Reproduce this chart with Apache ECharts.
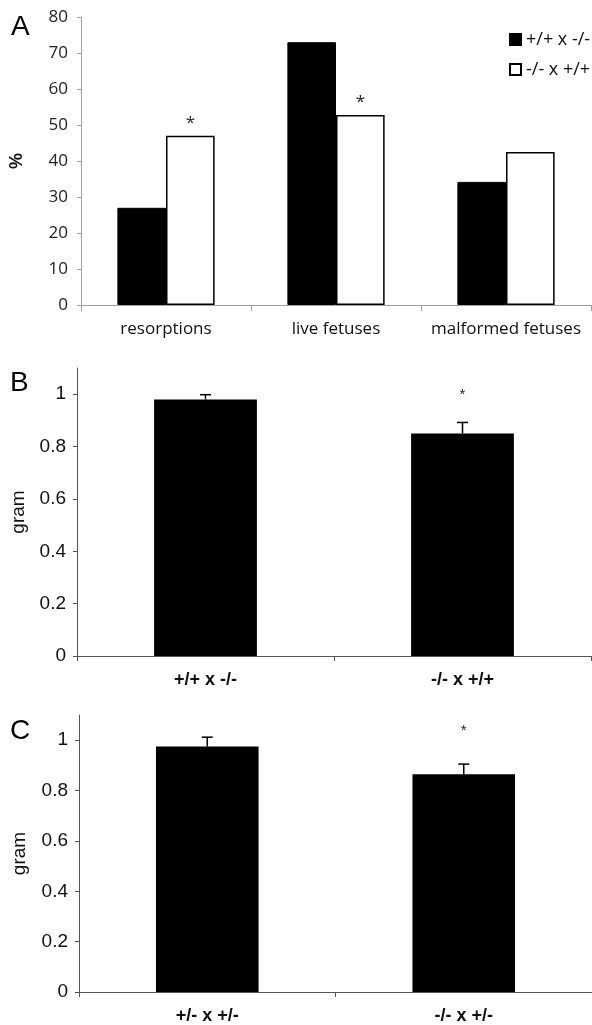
<!DOCTYPE html>
<html>
<head>
<meta charset="utf-8">
<script src="https://cdn.jsdelivr.net/npm/echarts@6/dist/echarts.min.js"></script>
<style>
html,body{margin:0;padding:0;background:#fff;}
#chart{width:592px;height:1025px;}
</style>
</head>
<body>
<div id="chart"></div>
<script>
// ---- Panel A data ----
const categoriesA = ['resorptions', 'live fetuses', 'malformed fetuses'];
const seriesNameA1 = '+/+ x -/-';
const seriesNameA2 = '-/- x +/+';
const valuesA1 = [27, 73, 34.2];
const valuesA2 = [47, 52.8, 42.5];
const sigA2 = [true, true, false];
const yTicksA = [0, 10, 20, 30, 40, 50, 60, 70, 80];

// ---- Panel B data ----
const categoriesB = ['+/+ x -/-', '-/- x +/+'];
const meanB = [0.98, 0.85];
const errB = [0.018, 0.042];
const sigB = [false, true];

// ---- Panel C data ----
const categoriesC = ['+/- x +/-', '-/- x +/-'];
const meanC = [0.975, 0.865];
const errC = [0.037, 0.04];
const sigC = [false, true];

const yTicksBC = [0, 0.2, 0.4, 0.6, 0.8, 1];

const chart = echarts.init(document.getElementById('chart'), null, {renderer: 'canvas'});

const fontA = '"Open Sans", sans-serif';
const fontB = '"Liberation Sans", Arial, sans-serif';

function errData(mean, err, sig) {
  return mean.map((m, i) => [i, m, err[i], sig[i] ? 1 : 0]);
}

function makeErrRender(starOffset) {
  return function (params, api) {
    const x = api.value(0), m = api.value(1), e = api.value(2), s = api.value(3);
    const base = api.coord([x, m]);
    const top = api.coord([x, m + e]);
    const children = [
      {type: 'line', shape: {x1: base[0], y1: base[1], x2: top[0], y2: top[1]}, style: {stroke: '#000', lineWidth: 1.5}},
      {type: 'line', shape: {x1: top[0] - 5.5, y1: top[1], x2: top[0] + 5.5, y2: top[1]}, style: {stroke: '#000', lineWidth: 1.5}}
    ];
    if (s) {
      children.push({type: 'text', x: top[0], y: top[1] - starOffset, style: {text: '*', fontSize: 15, fontFamily: fontB, fill: '#222', align: 'center', verticalAlign: 'middle'}});
    }
    return {type: 'group', children: children};
  };
}

const option = {
  backgroundColor: '#fff',
  animation: false,
  grid: [
    {left: 78, top: 17, width: 513, height: 288},
    {left: 77, top: 368, width: 514, height: 288},
    {left: 79, top: 715, width: 513, height: 278}
  ],
  legend: {
    data: [seriesNameA1, seriesNameA2],
    orient: 'vertical',
    left: 504,
    top: 25,
    icon: 'rect',
    itemWidth: 11,
    itemHeight: 11,
    itemGap: 11,
    textStyle: {fontSize: 18, fontFamily: fontA, color: '#111', lineHeight: 19}
  },
  graphic: [
    {type: 'text', x: 11, y: 27, style: {text: 'A', fontSize: 28, fontFamily: fontB, fill: '#000', verticalAlign: 'middle'}},
    {type: 'text', x: 10, y: 383, style: {text: 'B', fontSize: 28, fontFamily: fontB, fill: '#000', verticalAlign: 'middle'}},
    {type: 'text', x: 10, y: 731, style: {text: 'C', fontSize: 28, fontFamily: fontB, fill: '#000', verticalAlign: 'middle'}}
  ],
  xAxis: [
    {
      gridIndex: 0, type: 'category', data: categoriesA,
      axisLine: {show: true, lineStyle: {color: '#a0a0a0', width: 1}},
      axisTick: {show: true, length: 6, lineStyle: {color: '#a0a0a0'}},
      axisLabel: {interval: 0, fontSize: 17, fontFamily: fontA, color: '#111', margin: 16}
    },
    {
      gridIndex: 1, type: 'category', data: categoriesB,
      axisLine: {show: true, lineStyle: {color: '#555', width: 1}},
      axisTick: {show: true, length: 5, lineStyle: {color: '#555'}},
      axisLabel: {interval: 0, fontSize: 18, fontWeight: 'bold', fontFamily: fontB, color: '#111', margin: 15}
    },
    {
      gridIndex: 2, type: 'category', data: categoriesC,
      axisLine: {show: true, lineStyle: {color: '#555', width: 1}},
      axisTick: {show: true, length: 5, lineStyle: {color: '#555'}},
      axisLabel: {interval: 0, fontSize: 18, fontWeight: 'bold', fontFamily: fontB, color: '#111', margin: 15}
    }
  ],
  yAxis: [
    {
      gridIndex: 0, type: 'value', min: 0, max: 80, interval: 10,
      name: '%', nameLocation: 'middle', nameGap: 55,
      nameTextStyle: {fontSize: 18, fontWeight: 'bold', fontFamily: fontB, color: '#111'},
      axisLine: {show: true, lineStyle: {color: '#a0a0a0', width: 1}},
      axisTick: {show: true, length: 4, lineStyle: {color: '#a0a0a0'}},
      axisLabel: {fontSize: 17, fontFamily: fontA, color: '#222', margin: 13, customValues: yTicksA},
      splitLine: {show: false}
    },
    {
      gridIndex: 1, type: 'value', min: 0, max: 1.1,
      name: 'gram', nameLocation: 'middle', nameGap: 48,
      nameTextStyle: {fontSize: 19, fontFamily: fontB, color: '#111'},
      axisLine: {show: true, lineStyle: {color: '#555', width: 1}},
      axisTick: {show: true, length: 4, lineStyle: {color: '#555'}, customValues: yTicksBC},
      axisLabel: {fontSize: 19, fontFamily: fontB, color: '#111', margin: 11, customValues: yTicksBC},
      splitLine: {show: false}
    },
    {
      gridIndex: 2, type: 'value', min: 0, max: 1.1,
      name: 'gram', nameLocation: 'middle', nameGap: 50,
      nameTextStyle: {fontSize: 19, fontFamily: fontB, color: '#111'},
      axisLine: {show: true, lineStyle: {color: '#555', width: 1}},
      axisTick: {show: true, length: 4, lineStyle: {color: '#555'}, customValues: yTicksBC},
      axisLabel: {fontSize: 19, fontFamily: fontB, color: '#111', margin: 11, customValues: yTicksBC},
      splitLine: {show: false}
    }
  ],
  series: [
    {
      name: seriesNameA1, type: 'bar', xAxisIndex: 0, yAxisIndex: 0,
      data: valuesA1, barWidth: '28.6%', barGap: '0%',
      itemStyle: {color: '#000', borderColor: '#000', borderWidth: 1}
    },
    {
      name: seriesNameA2, type: 'bar', xAxisIndex: 0, yAxisIndex: 0,
      data: valuesA2.map((v, i) => ({value: v, label: {show: sigA2[i]}})),
      barWidth: '28.6%', barGap: '0%',
      itemStyle: {color: '#fff', borderColor: '#000', borderWidth: 1.5},
      label: {show: false, position: 'top', distance: 4, formatter: '*', fontSize: 17, fontFamily: fontA, color: '#222'}
    },
    {
      name: 'B', type: 'bar', xAxisIndex: 1, yAxisIndex: 1,
      data: meanB, barWidth: '40%',
      itemStyle: {color: '#000'}
    },
    {
      name: 'Berr', type: 'custom', xAxisIndex: 1, yAxisIndex: 1, z: 5,
      renderItem: makeErrRender(28),
      data: errData(meanB, errB, sigB)
    },
    {
      name: 'C', type: 'bar', xAxisIndex: 2, yAxisIndex: 2,
      data: meanC, barWidth: '40%',
      itemStyle: {color: '#000'}
    },
    {
      name: 'Cerr', type: 'custom', xAxisIndex: 2, yAxisIndex: 2, z: 5,
      renderItem: makeErrRender(33),
      data: errData(meanC, errC, sigC)
    }
  ]
};

chart.setOption(option);
</script>
</body>
</html>
